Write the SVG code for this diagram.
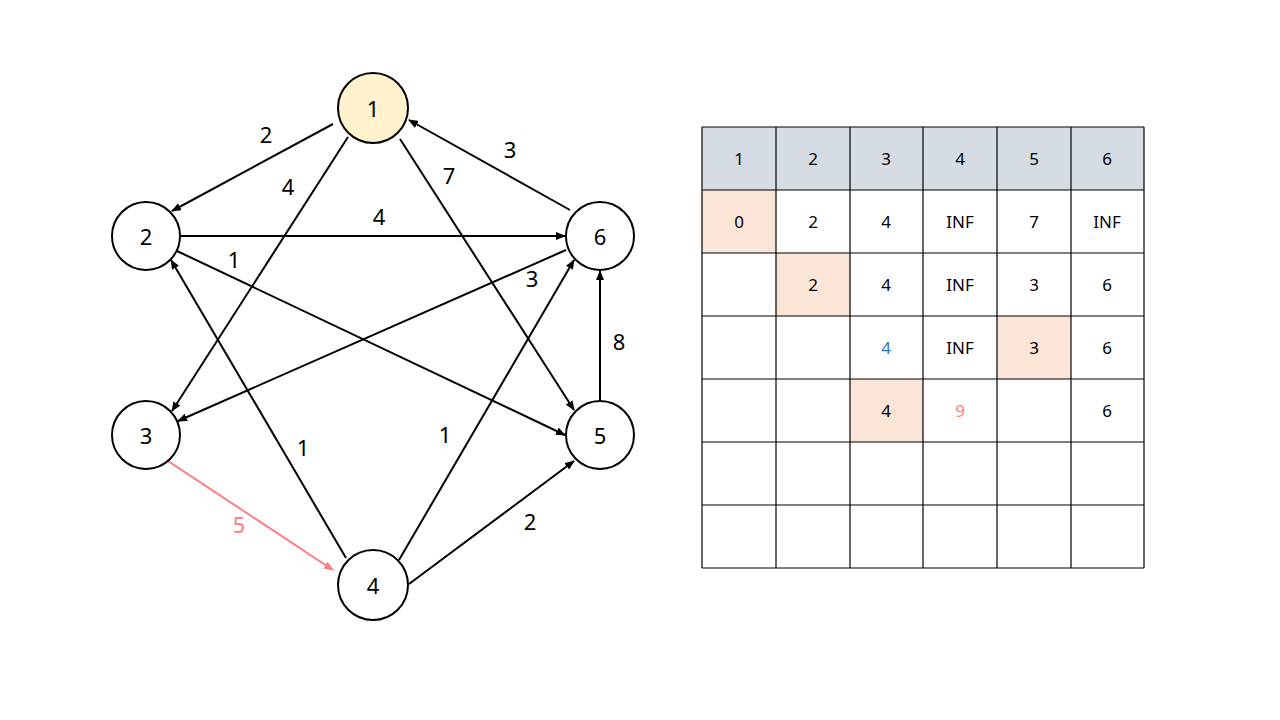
<svg xmlns="http://www.w3.org/2000/svg" width="1280" height="720" viewBox="0 0 1280 720">
<defs>
<marker id="ah" markerWidth="10" markerHeight="8" refX="9" refY="4" orient="auto" markerUnits="userSpaceOnUse"><path d="M0,0 L10,4 L0,8 z" fill="#000"/></marker>
<marker id="ahp" markerWidth="10" markerHeight="8" refX="9" refY="4" orient="auto" markerUnits="userSpaceOnUse"><path d="M0,0 L10,4 L0,8 z" fill="#FF7C80"/></marker>
</defs>
<style>
.n{fill:#fff;stroke:#000;stroke-width:2}
.t{font-family:"Noto Sans","DejaVu Sans",sans-serif;font-size:22px;fill:#000;text-anchor:middle;dominant-baseline:central}
.e{stroke:#000;stroke-width:2;fill:none;marker-end:url(#ah)}
.ep{stroke:#FF7C80;stroke-width:2;fill:none;marker-end:url(#ahp)}
.c{fill:#fff;stroke:#000;stroke-width:1.2}
.h{fill:#D6DCE4}
.hl{fill:#FBE5D6}
.tt{font-family:"Noto Sans","DejaVu Sans",sans-serif;font-size:17px;fill:#000;text-anchor:middle;dominant-baseline:central}
</style>
<rect width="1280" height="720" fill="#fff"/>
<g id="connectors">
<line class="e" x1="333" y1="124" x2="172" y2="211"/>
<line class="e" x1="348" y1="137" x2="172" y2="411"/>
<line class="e" x1="400" y1="139" x2="574" y2="410"/>
<line class="e" x1="570" y1="210" x2="409" y2="120"/>
<line class="e" x1="181" y1="236" x2="565" y2="236"/>
<line class="e" x1="177" y1="251" x2="565" y2="435"/>
<line class="e" x1="566" y1="250" x2="178" y2="421"/>
<line class="e" x1="600" y1="401" x2="600" y2="271"/>
<line class="e" x1="346" y1="558" x2="171" y2="260"/>
<line class="e" x1="399" y1="560" x2="574" y2="260"/>
<line class="e" x1="409" y1="584" x2="574" y2="461"/>
<line class="ep" x1="168" y1="461" x2="333" y2="570"/>
<text class="t" x="266" y="134">2</text>
<text class="t" x="288" y="186">4</text>
<text class="t" x="449" y="175">7</text>
<text class="t" x="510" y="149">3</text>
<text class="t" x="379" y="216">4</text>
<text class="t" x="234" y="259">1</text>
<text class="t" x="532" y="278">3</text>
<text class="t" x="619" y="341">8</text>
<text class="t" x="303" y="447">1</text>
<text class="t" x="445" y="434">1</text>
<text class="t" x="530" y="521">2</text>
<text class="t" x="239" y="524" style="fill:#FF7C80">5</text>
</g>
<g id="node1"><circle class="n" cx="373" cy="108" r="35" style="fill:#FFF2CC"/><text class="t" x="373" y="108">1</text></g>
<g id="node2"><circle class="n" cx="146" cy="236" r="34"/><text class="t" x="146" y="236">2</text></g>
<g id="node6"><circle class="n" cx="600" cy="236" r="34"/><text class="t" x="600" y="236">6</text></g>
<g id="node3"><circle class="n" cx="146" cy="435" r="34"/><text class="t" x="146" y="435">3</text></g>
<g id="node5"><circle class="n" cx="600" cy="435" r="34"/><text class="t" x="600" y="435">5</text></g>
<g id="node4"><circle class="n" cx="373" cy="585" r="35"/><text class="t" x="373" y="585">4</text></g>
<g id="table">
<rect x="702" y="127" width="442" height="63" class="h"/>
<rect x="702" y="190" width="74" height="63" class="hl"/>
<rect x="776" y="253" width="74" height="63" class="hl"/>
<rect x="997" y="316" width="74" height="63" class="hl"/>
<rect x="850" y="379" width="73" height="63" class="hl"/>
<g stroke="#000" stroke-width="1.2">
<line x1="702" y1="127" x2="1144" y2="127"/>
<line x1="702" y1="190" x2="1144" y2="190"/>
<line x1="702" y1="253" x2="1144" y2="253"/>
<line x1="702" y1="316" x2="1144" y2="316"/>
<line x1="702" y1="379" x2="1144" y2="379"/>
<line x1="702" y1="442" x2="1144" y2="442"/>
<line x1="702" y1="505" x2="1144" y2="505"/>
<line x1="702" y1="568" x2="1144" y2="568"/>
<line x1="702" y1="127" x2="702" y2="568"/>
<line x1="776" y1="127" x2="776" y2="568"/>
<line x1="850" y1="127" x2="850" y2="568"/>
<line x1="923" y1="127" x2="923" y2="568"/>
<line x1="997" y1="127" x2="997" y2="568"/>
<line x1="1071" y1="127" x2="1071" y2="568"/>
<line x1="1144" y1="127" x2="1144" y2="568"/>
</g>
<text class="tt" x="739" y="158">1</text>
<text class="tt" x="813" y="158">2</text>
<text class="tt" x="886" y="158">3</text>
<text class="tt" x="960" y="158">4</text>
<text class="tt" x="1034" y="158">5</text>
<text class="tt" x="1107" y="158">6</text>
<text class="tt" x="739" y="221">0</text>
<text class="tt" x="813" y="221">2</text>
<text class="tt" x="886" y="221">4</text>
<text class="tt" x="960" y="221">INF</text>
<text class="tt" x="1034" y="221">7</text>
<text class="tt" x="1107" y="221">INF</text>
<text class="tt" x="813" y="284">2</text>
<text class="tt" x="886" y="284">4</text>
<text class="tt" x="960" y="284">INF</text>
<text class="tt" x="1034" y="284">3</text>
<text class="tt" x="1107" y="284">6</text>
<text class="tt" x="886" y="347" style="fill:#2E75B6">4</text>
<text class="tt" x="960" y="347">INF</text>
<text class="tt" x="1034" y="347">3</text>
<text class="tt" x="1107" y="347">6</text>
<text class="tt" x="886" y="410">4</text>
<text class="tt" x="960" y="410" style="fill:#FF7C80">9</text>
<text class="tt" x="1107" y="410">6</text>
</g>
</svg>
